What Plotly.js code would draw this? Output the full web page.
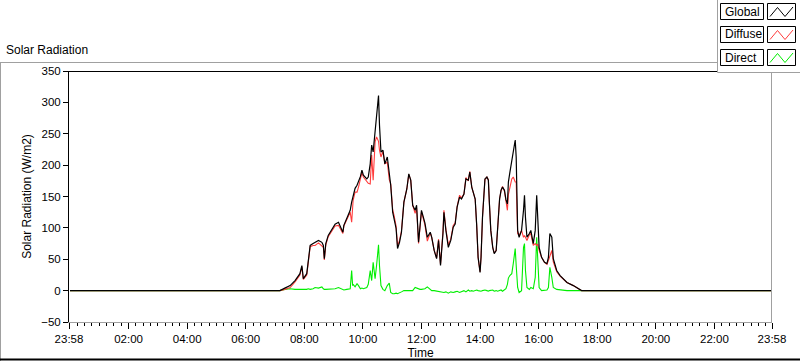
<!DOCTYPE html>
<html>
<head>
<meta charset="utf-8">
<script src="https://cdn.plot.ly/plotly-3.0.1.min.js"></script>
<style>html,body{margin:0;padding:0;background:#fff;}#chart{width:800px;height:361px;}</style>
</head>
<body>
<div id="chart"></div>
<script>
// ---- data ----
const times = [
"00:00","07:10","07:20","07:31","07:41","07:51","07:55","07:58","08:05","08:08",
"08:12","08:18","08:22","08:29","08:36","08:39","08:41","08:44","08:49","08:56",
"09:03","09:10","09:15","09:19","09:21","09:27","09:34","09:37","09:39","09:40",
"09:44","09:48","09:51","09:55","09:58","10:01","10:08","10:11","10:15","10:18",
"10:21","10:25","10:28","10:32","10:34","10:37","10:41","10:45","10:50","10:54",
"10:57","11:01","11:04","11:08","11:11","11:15","11:19","11:24","11:30","11:34",
"11:38","11:42","11:47","11:50","11:54","11:57","12:00","12:07","12:12","12:18",
"12:21","12:26","12:31","12:35","12:39","12:44","12:46","12:50","12:55","13:00",
"13:05","13:09","13:13","13:18","13:22","13:27","13:31","13:36","13:39","13:43",
"13:46","13:50","13:53","13:56","14:00","14:02","14:05","14:10","14:14","14:17",
"14:19","14:22","14:26","14:29","14:33","14:36","14:40","14:43","14:46","14:50",
"14:53","14:56","14:58","15:01","15:05","15:08","15:12","15:14","15:15","15:17",
"15:20","15:25","15:29","15:31","15:33","15:36","15:41","15:44","15:49","15:53",
"15:56","15:58","16:01","16:06","16:12","16:17","16:20","16:23","16:27","16:30",
"16:37","16:44","16:58","17:11","17:25","17:28","23:58"];

const globalRad = [
0,0,4,8,16,27,40,19,27,48,
72,75,77,80,77,72,51,75,88,98,
106,109,101,93,104,114,128,141,148,154,
163,168,173,182,192,184,178,181,202,232,
221,256,285,311,264,221,224,202,213,189,
168,125,115,99,67,77,93,141,162,186,
176,136,128,136,77,108,128,108,85,93,
85,64,51,80,40,91,125,96,69,80,
101,106,133,149,146,154,178,176,189,165,
157,146,106,53,29,53,117,178,181,176,
141,96,69,59,64,106,146,160,165,160,
145,138,173,188,205,224,240,213,149,96,
85,96,128,152,117,85,91,96,75,96,
152,117,69,53,45,43,53,91,85,51,
32,24,13,8,1,0,0];

const diffuseRad = [
0,0,2,5,14,25,38,18,25,45,
70,72,72,76,71,69,49,73,86,95,
103,104,98,91,103,112,125,109,140,144,
157,157,165,179,188,181,173,171,170,216,
176,237,245,238,224,213,222,202,205,177,
170,129,119,103,71,80,95,141,162,185,
176,136,123,132,75,106,126,105,79,92,
85,64,52,82,42,94,128,98,73,82,
104,108,134,152,148,154,180,175,190,165,
158,146,105,53,30,54,117,177,181,177,
141,96,68,60,64,107,146,159,166,158,
142,128,153,164,178,181,173,173,129,91,
88,96,85,88,85,80,89,91,72,75,
72,74,64,53,45,42,48,54,64,46,
30,23,13,8,1,0,0];

const directRad = [
0,0,2,3,2,2,2,1,2,3,
2,3,5,4,6,3,2,2,2,3,
3,5,3,2,1,2,3,32,8,10,
6,11,8,3,4,3,5,10,32,16,
45,19,40,73,40,8,2,0,8,12,
-3,-5,-5,-4,-5,-3,-2,0,0,1,
0,0,5,4,2,2,2,3,6,1,
0,0,-1,-2,-2,-3,-3,-2,-4,-2,
-3,-2,-1,-3,-2,0,-2,1,-1,0,
-1,0,1,0,-1,-1,0,1,0,-1,
0,0,1,-1,0,-1,0,1,-1,2,
3,10,20,24,27,43,67,40,20,5,
-3,0,69,75,32,5,2,5,3,21,
85,43,5,0,0,1,5,37,21,5,
2,1,0,0,0,0,0];

const seriesNames = ["Global","Diffuse","Direct"];
const tickLabels = ["23:58","02:00","04:00","06:00","08:00","10:00","12:00","14:00","16:00","18:00","20:00","22:00","23:58"];

// ---- helpers ----
const toHours = s => { const p = s.split(":").map(Number); return p[0] + p[1]/60; };
const xs = times.map(toHours);
const tickVals = tickLabels.map((t,i) => i === 0 ? toHours(t) - 24 : toHours(t));
const X0 = tickVals[0], X1 = tickVals[tickVals.length-1];

const W = 800, H = 361, ML = 69, MR = 28, MT = 71, MB = 39;
const PW = W - ML - MR, PH = H - MT - MB;
const px = x => (x - ML) / PW;
const py = y => (H - MB - y) / PH;

const FONT = "Liberation Sans, Arial, sans-serif";
const colors = {Global:"#000000", Diffuse:"#ff3c3c", Direct:"#00ee00"};

const traces = [
  {x: xs, y: directRad, name: "Direct", type: "scatter", mode: "lines", line: {color: colors.Direct, width: 1.1}},
  {x: xs, y: diffuseRad, name: "Diffuse", type: "scatter", mode: "lines", line: {color: colors.Diffuse, width: 1.1}},
  {x: xs, y: globalRad, name: "Global", type: "scatter", mode: "lines", line: {color: colors.Global, width: 1.2}}
];

const shapes = [];
const line = (x0,y0,x1,y1,color,width) => shapes.push({type:"line", xref:"paper", yref:"paper",
  x0:px(x0), y0:py(y0), x1:px(x1), y1:py(y1), line:{color:color, width:width||1}});
// outer frame
line(0, 62.5, 717, 62.5, "#a0a0a0");
line(0.5, 62.5, 0.5, 361, "#a0a0a0");
line(0, 359.5, 800, 359.5, "#000", 2);
// plot frame top and right
line(ML, MT + 0.5, 772, MT + 0.5, "#000");
line(771.5, MT, 771.5, H - MB, "#a0a0a0");
// legend panel
shapes.push({type:"rect", xref:"paper", yref:"paper", x0:px(717.5), y0:py(72.5), x1:px(801), y1:py(-1),
  fillcolor:"#fff", line:{color:"#a0a0a0", width:1}});
const annotations = [];
const rowTops = [3.5, 26.5, 49.5];
seriesNames.forEach((nm, i) => {
  const t = rowTops[i], b = t + 16;
  shapes.push({type:"rect", xref:"paper", yref:"paper", x0:px(720.5), x1:px(763.5), y0:py(b), y1:py(t),
    fillcolor:"#fff", line:{color:"#000", width:1}});
  shapes.push({type:"rect", xref:"paper", yref:"paper", x0:px(767.5), x1:px(795.5), y0:py(b), y1:py(t),
    fillcolor:"#fff", line:{color:"#000", width:1}});
  const zz = [[770, t+13], [777.5, t+4], [785, t+13], [793, t+3.5]];
  shapes.push({type:"path", xref:"paper", yref:"paper",
    path: "M" + zz.map(p => px(p[0]) + "," + py(p[1])).join(" L"),
    line:{color: colors[nm], width:1}});
  annotations.push({xref:"paper", yref:"paper", x:px(723), y:py(t+8), xanchor:"left", yanchor:"middle",
    text:nm, showarrow:false, font:{family:FONT, size:12, color:"#000"}});
});
annotations.push({xref:"paper", yref:"paper", x:px(4), y:py(50), xanchor:"left", yanchor:"middle",
  text:"Solar Radiation", showarrow:false, font:{family:FONT, size:12, color:"#000"}});

const layout = {
  width: W, height: H,
  margin: {l: ML, r: MR, t: MT, b: MB, pad: 0},
  paper_bgcolor: "#fff", plot_bgcolor: "#fff",
  showlegend: false,
  font: {family: FONT, size: 11.5, color: "#000"},
  xaxis: {
    range: [X0, X1], tickmode: "array", tickvals: tickVals, ticktext: tickLabels,
    ticks: "outside", ticklen: 6, tickwidth: 1, tickcolor: "#000",
    showline: true, linecolor: "#a0a0a0", linewidth: 1,
    showgrid: false, zeroline: false,
    minor: {dtick: 0.25, tick0: 0, ticks: "outside", ticklen: 3, tickcolor: "#000", showgrid: false},
    title: {text: "Time", standoff: 4, font: {family: FONT, size: 12, color: "#000"}},
    automargin: false, fixedrange: true
  },
  yaxis: {
    range: [-50, 350], dtick: 50, tick0: 0,
    ticks: "outside", ticklen: 5, tickwidth: 1, tickcolor: "#000",
    showline: true, linecolor: "#000", linewidth: 1,
    showgrid: false, zeroline: false,
    title: {text: "Solar Radiation (W/m2)", standoff: 6, font: {family: FONT, size: 12, color: "#000"}},
    automargin: false, fixedrange: true
  },
  shapes: shapes,
  annotations: annotations
};

Plotly.newPlot("chart", traces, layout, {displayModeBar: false, staticPlot: true});
</script>
</body>
</html>
